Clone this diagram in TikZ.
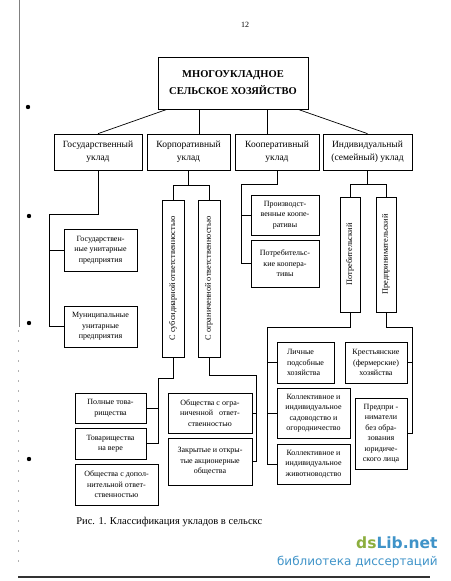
\documentclass[tikz,border=0pt]{standalone}
\usepackage{fontspec}
\usepackage{graphicx}
\setmainfont{Liberation Serif}
\newfontfamily\logofont{DejaVu Sans}
\definecolor{logogreen}{HTML}{8CAE3E}
\definecolor{logoblue}{HTML}{3F93C8}
\begin{document}
\begin{tikzpicture}[x=1pt, y=-1pt, line width=0.7pt,
    box/.style={draw, inner sep=1pt, align=center, font=\fontsize{8}{10.5}\selectfont},
    head/.style={box, minimum height=36, font=\fontsize{9.5}{13}\selectfont},
    vbox/.style={box, inner sep=0pt, font=\fontsize{8.3}{10}\selectfont}]
  \useasboundingbox (0,0) rectangle (450,581);

  % scan edges
  \draw[gray, line width=0.4pt] (19,0) -- (19,327);
  \draw[gray!60, line width=0.4pt, dash pattern=on 2pt off 8pt] (18,330) -- (18,565);
  \draw[black!80, line width=1.2pt] (18,577) -- (430,577);
  \fill (28,107) circle (2.2);
  \fill (29,216) circle (2.2);
  \fill (29,323) circle (2.2);
  \fill (29,459) circle (2.2);

  \node[font=\fontsize{8}{10}\selectfont] (pagenum) at (245,25) {12};

  % top
  \node[draw, minimum width=150, minimum height=52, align=center,
        font=\bfseries\fontsize{10.5}{17}\selectfont] (top) at (233,83)
        {МНОГОУКЛАДНОЕ\\СЕЛЬСКОЕ ХОЗЯЙСТВО};

  \node[head, minimum width=88] (gos) at (98,152) {Государственный\\уклад};
  \node[head, minimum width=83] (korp) at (188.5,152) {Корпоративный\\уклад};
  \node[head, minimum width=84] (koop) at (277,152) {Кооперативный\\уклад};
  \node[head, minimum width=89] (indiv) at (367.5,152) {Индивидуальный\\(семейный) уклад};

  \draw ([xshift=-66]top.south) -- (gos.north);
  \draw ([xshift=-34]top.south) -- ([xshift=-34]top.south |- korp.north);
  \draw ([xshift=34]top.south) -- ([xshift=34]top.south |- koop.north);
  \draw ([xshift=65]top.south) -- (indiv.north);

  % state
  \node[box, minimum width=73, minimum height=42] (gup) at (100.5,250)
        {Государствен-\\ные унитарные\\предприятия};
  \node[box, minimum width=73, minimum height=41] (mup) at (100.5,326.5)
        {Муниципальные\\унитарные\\предприятия};
  \coordinate (gosbus) at (49,214);
  \draw (gos.south) |- (gosbus) -- (gosbus |- mup.west) -- (mup.west);
  \draw (gosbus |- gup.west) -- (gup.west);

  % corporate
  \node[vbox, minimum width=22, minimum height=157] (subs) at (173,278.5)
        {\rotatebox{90}{С субсидиарной ответственностью}};
  \node[vbox, minimum width=22, minimum height=157] (ogr) at (209,278.5)
        {\rotatebox{90}{С ограниченной ответственностью}};
  \path (korp.south) ++(0,15) coordinate (korpbus);
  \draw (korp.south) -- (korpbus);
  \draw (subs.north) |- (korpbus) -| (ogr.north);

  \node[box, minimum width=71, minimum height=30] (pt) at (110.5,408)
        {Полные това-\\рищества};
  \node[box, minimum width=71, minimum height=31] (tv) at (110.5,443.5)
        {Товарищества\\на вере};
  \node[box, minimum width=83, minimum height=41] (odo) at (116.5,484.5)
        {Общества с допол-\\нительной ответ-\\ственностью};
  \path (subs.south) ++(0,21) coordinate (substurn);
  \coordinate (subsbus) at (substurn -| odo.east);
  \draw (subs.south) -- (substurn) -- (subsbus) -- (subsbus |- tv.east) -- (tv.east);
  \draw (subsbus |- pt.east) -- (pt.east);

  \node[box, minimum width=84, minimum height=40] (ooo) at (210,413)
        {Общества с огра-\\ниченной \ \ ответ-\\ственностью};
  \node[box, minimum width=84, minimum height=47] (zao) at (210,461.5)
        {Закрытые и откры-\\тые акционерные\\общества};
  \coordinate (ogrbus) at (256,375);
  \draw (ogr.south) |- (ogrbus) -- (ogrbus |- zao.east) -- (zao.east);
  \draw (ogrbus |- ooo.east) -- (ooo.east);

  % cooperative
  \node[box, minimum width=68, minimum height=40] (pk) at (285,215)
        {Производст-\\венные коопе-\\ративы};
  \node[box, minimum width=68, minimum height=47] (potk) at (285,263.5)
        {Потребительс-\\кие коопера-\\тивы};
  \coordinate (koopbus) at (241,184);
  \draw (koop.south) |- (koopbus) -- (koopbus |- potk.west) -- (potk.west);
  \draw (koopbus |- pk.west) -- (pk.west);

  % individual
  \node[vbox, minimum width=20, minimum height=115] (potr) at (350,254.5)
        {\rotatebox{90}{Потребительский}};
  \node[vbox, minimum width=20, minimum height=115] (pred) at (386,254.5)
        {\rotatebox{90}{Предпринимательский}};
  \path (indiv.south) ++(0,14) coordinate (indivbus);
  \draw (indiv.south) -- (indivbus);
  \draw (potr.north) |- (indivbus) -| (pred.north);

  \node[box, minimum width=57, minimum height=41, align=left] (lph) at (305.5,362.5)
        {Личные\\подсобные\\хозяйства};
  \node[box, minimum width=73, minimum height=50] (ksad) at (313.5,413)
        {Коллективное и\\индивидуальное\\садоводство и\\огородничество};
  \node[box, minimum width=73, minimum height=40] (kzhiv) at (313.5,464)
        {Коллективное и\\индивидуальное\\животноводство};
  \coordinate (potrbus) at (267,327);
  \draw (potr.south) |- (potrbus) -- (potrbus |- kzhiv.west) -- (kzhiv.west);
  \draw (potrbus |- lph.west) -- (lph.west);
  \draw (potrbus |- ksad.west) -- (ksad.west);

  \node[box, minimum width=62, minimum height=41] (kfh) at (376,362.5)
        {Крестьянские\\(фермерские)\\хозяйства};
  \node[box, minimum width=52, minimum height=71] (pbo) at (381,433.5)
        {Предпри -\\ниматели\\без обра-\\зования\\юридиче-\\ского лица};
  \coordinate (predbus) at (412,327);
  \draw (pred.south) |- (predbus) -- (predbus |- pbo.east) -- (pbo.east);
  \draw (predbus |- kfh.east) -- (kfh.east);

  % caption and watermark
  \node[anchor=west, inner sep=0pt, font=\fontsize{10.5}{12}\selectfont] (caption) at (76,522)
        {Рис. 1. Классификация укладов в сельскс};
  \node[anchor=east, inner sep=0pt, font=\logofont\bfseries\fontsize{15.5}{17}\selectfont] (logo) at (438,543)
        {\textcolor{logogreen}{ds}\textcolor{logoblue}{Lib.net}};
  \node[anchor=east, inner sep=0pt, text=logoblue, font=\logofont\fontsize{12}{14}\selectfont] (logosub) at (438,562)
        {библиотека диссертаций};
\end{tikzpicture}
\end{document}
